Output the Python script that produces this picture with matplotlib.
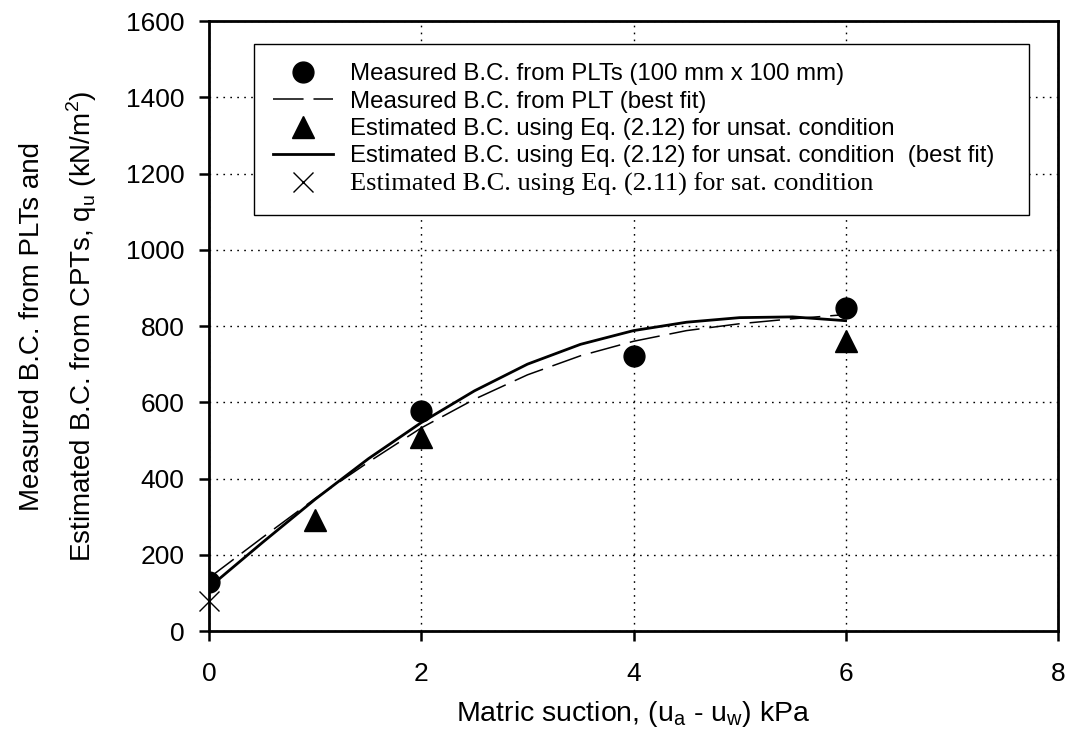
import numpy as np
from matplotlib import pyplot as plt

plt.rcParams['font.family'] = ['Liberation Sans', 'DejaVu Sans']
plt.rcParams['mathtext.fontset'] = 'custom'
plt.rcParams['mathtext.rm'] = 'Liberation Sans'

# measured bearing capacity from plate load tests
plt_x = [0, 2, 4, 6]
plt_y = [128, 577, 721, 846]

# estimated, Eq. (2.12), unsaturated
est_x = [1, 2, 6]
est_y = [291, 509, 760]

# estimated, Eq. (2.11), saturated
sat_x = [0]
sat_y = [80]

# best fit curves
fit_x = [0, 0.5, 1, 1.5, 2, 2.5, 3, 3.5, 4, 4.5, 5, 5.5, 6]
fit_plt = [140, 245, 348, 443, 533, 608, 672, 722, 760, 788, 806, 819, 830]
fit_est = [115, 232, 346, 452, 547, 630, 700, 752, 788, 810, 822, 824, 814]

labels = ["Measured B.C. from PLTs (100 mm x 100 mm)",
          "Measured B.C. from PLT (best fit)",
          "Estimated B.C. using Eq. (2.12) for unsat. condition",
          "Estimated B.C. using Eq. (2.12) for unsat. condition  (best fit)",
          "Estimated B.C. using Eq. (2.11) for sat. condition"]

fig = plt.figure(figsize=(10.68, 7.43), dpi=100)
ax = fig.add_axes([0.196, 0.1507, 0.7944, 0.821])

h2, = ax.plot(fit_x, fit_plt, color="black", lw=1.1, dashes=(20, 6.5), zorder=3)
h4, = ax.plot(fit_x, fit_est, color="black", lw=2.0, zorder=3)
h1, = ax.plot(plt_x, plt_y, "o", color="black", ms=15, ls="none", zorder=5)
h3, = ax.plot(est_x, est_y, "^", color="black", ms=16, ls="none", zorder=5)
h5, = ax.plot(sat_x, sat_y, "x", color="black", ms=14, mew=1.0, ls="none", zorder=6, clip_on=False)

ax.set_xlim(0, 8)
ax.set_ylim(0, 1600)
ax.set_xticks([0, 2, 4, 6, 8])
ax.set_yticks(np.arange(0, 1601, 200))
ax.grid(True, color="black", lw=1.0, linestyle=(0, (1.2, 3.8)), zorder=0)
ax.set_axisbelow(True)

for s in ax.spines.values():
    s.set_linewidth(2.0)
ax.tick_params(direction="out", length=7, width=1.8, labelsize=19)
ax.tick_params(axis="y", pad=11)
ax.tick_params(axis="x", pad=15)

ax.set_xlabel("Matric suction, (u$_\\mathregular{a}$ - u$_\\mathregular{w}$) kPa", fontsize=20.5, labelpad=10)
ax.set_ylabel("Measured B.C. from PLTs and\nEstimated B.C. from CPTs, q$_\\mathregular{u}$ (kN/m$^\\mathregular{2}$)",
              fontsize=20, labelpad=19, linespacing=1.75)

leg = ax.legend([h1, h2, h3, h4, h5], labels, loc="upper left",
                bbox_to_anchor=(0.0527, 0.682, 0.914, 0.28), mode="expand",
                fontsize=17.3, frameon=True, fancybox=False, framealpha=1,
                edgecolor="black", handlelength=2.5, handletextpad=0.7,
                labelspacing=0.22, borderpad=0.8, borderaxespad=0)
leg.get_frame().set_linewidth(1.0)
leg.get_texts()[4].set_fontfamily('Liberation Serif')
leg.get_texts()[4].set_fontsize(19)

fig.savefig("out.png", dpi=100)
